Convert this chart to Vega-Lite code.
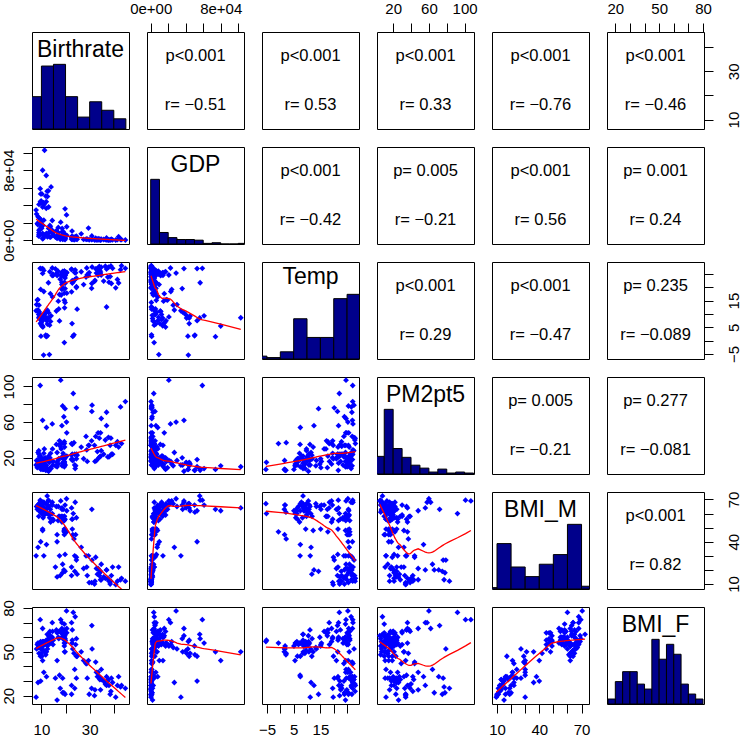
{
"$schema": "https://vega.github.io/schema/vega-lite/v6.json",
"padding": 0,
"config": {
 "view": {"stroke": "black", "strokeWidth": 1},
 "font": "Liberation Sans",
 "axis": {"grid": false, "domain": false, "tickColor": "black", "tickSize": 9, "tickWidth": 1, "labelFontSize": 15, "labelColor": "black", "labelFont": "Liberation Sans", "labelOverlap": false, "labelBound": false, "labelFlush": false}
},
"datasets": {
 "c": [
  {"Birthrate":11.3,"GDP":102900,"Temp":8.6,"PM2pt5":10,"BMI_M":64,"BMI_F":50},
  {"Birthrate":10.5,"GDP":80000,"Temp":5.5,"PM2pt5":11,"BMI_M":62,"BMI_F":44},
  {"Birthrate":12.0,"GDP":74000,"Temp":1.5,"PM2pt5":7,"BMI_M":63,"BMI_F":50},
  {"Birthrate":14.0,"GDP":61000,"Temp":9.3,"PM2pt5":8,"BMI_M":66,"BMI_F":56},
  {"Birthrate":10.2,"GDP":53000,"Temp":7.5,"PM2pt5":10,"BMI_M":62,"BMI_F":47},
  {"Birthrate":11.8,"GDP":50500,"Temp":2.1,"PM2pt5":6,"BMI_M":61,"BMI_F":48},
  {"Birthrate":12.5,"GDP":50000,"Temp":1.8,"PM2pt5":6,"BMI_M":66,"BMI_F":54},
  {"Birthrate":9.9,"GDP":45000,"Temp":9.2,"PM2pt5":13,"BMI_M":62,"BMI_F":49},
  {"Birthrate":9.6,"GDP":44000,"Temp":6.4,"PM2pt5":15,"BMI_M":64,"BMI_F":47},
  {"Birthrate":9.8,"GDP":42500,"Temp":1.7,"PM2pt5":7,"BMI_M":66,"BMI_F":52},
  {"Birthrate":9.0,"GDP":41000,"Temp":8.5,"PM2pt5":14,"BMI_M":65,"BMI_F":49},
  {"Birthrate":11.0,"GDP":40500,"Temp":9.6,"PM2pt5":15,"BMI_M":64,"BMI_F":51},
  {"Birthrate":12.0,"GDP":44000,"Temp":8.5,"PM2pt5":11,"BMI_M":67,"BMI_F":58},
  {"Birthrate":12.0,"GDP":36500,"Temp":10.7,"PM2pt5":12,"BMI_M":63,"BMI_F":50},
  {"Birthrate":8.0,"GDP":30000,"Temp":13.5,"PM2pt5":17,"BMI_M":65,"BMI_F":52},
  {"Birthrate":9.0,"GDP":25700,"Temp":13.3,"PM2pt5":11,"BMI_M":67,"BMI_F":53},
  {"Birthrate":8.3,"GDP":19200,"Temp":15.2,"PM2pt5":9,"BMI_M":63,"BMI_F":55},
  {"Birthrate":8.5,"GDP":18000,"Temp":15.4,"PM2pt5":16,"BMI_M":66,"BMI_F":56},
  {"Birthrate":10.4,"GDP":17500,"Temp":7.5,"PM2pt5":18,"BMI_M":67,"BMI_F":56},
  {"Birthrate":9.9,"GDP":16000,"Temp":6.8,"PM2pt5":19,"BMI_M":65,"BMI_F":55},
  {"Birthrate":9.8,"GDP":20800,"Temp":8.9,"PM2pt5":17,"BMI_M":66,"BMI_F":54},
  {"Birthrate":10.6,"GDP":17000,"Temp":5.1,"PM2pt5":7,"BMI_M":62,"BMI_F":54},
  {"Birthrate":9.9,"GDP":14200,"Temp":6.2,"PM2pt5":12,"BMI_M":62,"BMI_F":56},
  {"Birthrate":10.1,"GDP":13700,"Temp":5.6,"PM2pt5":13,"BMI_M":60,"BMI_F":56},
  {"Birthrate":9.6,"GDP":12500,"Temp":7.9,"PM2pt5":22,"BMI_M":68,"BMI_F":56},
  {"Birthrate":9.3,"GDP":12300,"Temp":9.8,"PM2pt5":19,"BMI_M":67,"BMI_F":55},
  {"Birthrate":9.0,"GDP":11500,"Temp":10.9,"PM2pt5":17,"BMI_M":66,"BMI_F":56},
  {"Birthrate":9.0,"GDP":8900,"Temp":8.8,"PM2pt5":17,"BMI_M":62,"BMI_F":54},
  {"Birthrate":9.0,"GDP":6800,"Temp":10.6,"PM2pt5":24,"BMI_M":63,"BMI_F":55},
  {"Birthrate":9.2,"GDP":5200,"Temp":10.0,"PM2pt5":21,"BMI_M":62,"BMI_F":54},
  {"Birthrate":8.9,"GDP":4700,"Temp":9.8,"PM2pt5":28,"BMI_M":58,"BMI_F":54},
  {"Birthrate":12.5,"GDP":3900,"Temp":11.4,"PM2pt5":18,"BMI_M":60,"BMI_F":52},
  {"Birthrate":11.2,"GDP":4800,"Temp":9.8,"PM2pt5":30,"BMI_M":59,"BMI_F":55},
  {"Birthrate":11.6,"GDP":6400,"Temp":10.6,"PM2pt5":20,"BMI_M":61,"BMI_F":57},
  {"Birthrate":12.5,"GDP":5800,"Temp":6.2,"PM2pt5":17,"BMI_M":60,"BMI_F":57},
  {"Birthrate":10.7,"GDP":2100,"Temp":8.3,"PM2pt5":19,"BMI_M":57,"BMI_F":56},
  {"Birthrate":10.5,"GDP":1800,"Temp":9.5,"PM2pt5":15,"BMI_M":49,"BMI_F":57},
  {"Birthrate":13.3,"GDP":9300,"Temp":-5.2,"PM2pt5":15,"BMI_M":60,"BMI_F":58},
  {"Birthrate":11.0,"GDP":23000,"Temp":18.4,"PM2pt5":16,"BMI_M":68,"BMI_F":55},
  {"Birthrate":9.7,"GDP":24000,"Temp":19.2,"PM2pt5":13,"BMI_M":69,"BMI_F":57},
  {"Birthrate":12.4,"GDP":56000,"Temp":8.5,"PM2pt5":8,"BMI_M":72.5,"BMI_F":62},
  {"Birthrate":10.9,"GDP":43000,"Temp":-5.4,"PM2pt5":7,"BMI_M":67,"BMI_F":57},
  {"Birthrate":12.9,"GDP":56500,"Temp":21.7,"PM2pt5":6,"BMI_M":69.5,"BMI_F":59},
  {"Birthrate":13.0,"GDP":38000,"Temp":10.5,"PM2pt5":5,"BMI_M":69,"BMI_F":61},
  {"Birthrate":19.8,"GDP":36000,"Temp":19.5,"PM2pt5":20,"BMI_M":66,"BMI_F":59},
  {"Birthrate":7.8,"GDP":34500,"Temp":11.2,"PM2pt5":12,"BMI_M":30,"BMI_F":19},
  {"Birthrate":8.6,"GDP":27000,"Temp":11.5,"PM2pt5":26,"BMI_M":36,"BMI_F":29},
  {"Birthrate":9.7,"GDP":53000,"Temp":27.0,"PM2pt5":18,"BMI_M":40,"BMI_F":30},
  {"Birthrate":12.1,"GDP":8000,"Temp":7.5,"PM2pt5":54,"BMI_M":38,"BMI_F":33},
  {"Birthrate":19.5,"GDP":3900,"Temp":-0.7,"PM2pt5":36,"BMI_M":47,"BMI_F":56},
  {"Birthrate":9.5,"GDP":59000,"Temp":27.1,"PM2pt5":101,"BMI_M":69.5,"BMI_F":72},
  {"Birthrate":10.5,"GDP":38000,"Temp":27.0,"PM2pt5":62,"BMI_M":68,"BMI_F":66},
  {"Birthrate":20.4,"GDP":29000,"Temp":25.3,"PM2pt5":60,"BMI_M":70.5,"BMI_F":78},
  {"Birthrate":18.0,"GDP":20700,"Temp":24.6,"PM2pt5":107,"BMI_M":69,"BMI_F":72},
  {"Birthrate":14.5,"GDP":22600,"Temp":27.2,"PM2pt5":58,"BMI_M":68,"BMI_F":70},
  {"Birthrate":20.5,"GDP":15500,"Temp":25.6,"PM2pt5":48,"BMI_M":62,"BMI_F":66},
  {"Birthrate":23.2,"GDP":3500,"Temp":22.1,"PM2pt5":92,"BMI_M":60,"BMI_F":77},
  {"Birthrate":22.5,"GDP":4100,"Temp":18.3,"PM2pt5":36,"BMI_M":64,"BMI_F":70},
  {"Birthrate":14.6,"GDP":8000,"Temp":16.4,"PM2pt5":30,"BMI_M":66,"BMI_F":64},
  {"Birthrate":17.5,"GDP":5000,"Temp":17.3,"PM2pt5":39,"BMI_M":58,"BMI_F":64},
  {"Birthrate":30.9,"GDP":4900,"Temp":21.4,"PM2pt5":72,"BMI_M":63,"BMI_F":68},
  {"Birthrate":16.2,"GDP":11000,"Temp":11.1,"PM2pt5":35,"BMI_M":65,"BMI_F":65},
  {"Birthrate":18.5,"GDP":3800,"Temp":19.2,"PM2pt5":36,"BMI_M":54,"BMI_F":66},
  {"Birthrate":22.8,"GDP":4200,"Temp":22.5,"PM2pt5":35,"BMI_M":56,"BMI_F":65},
  {"Birthrate":18.2,"GDP":2900,"Temp":17.1,"PM2pt5":30,"BMI_M":58,"BMI_F":63},
  {"Birthrate":18.5,"GDP":6000,"Temp":21.8,"PM2pt5":56,"BMI_M":64,"BMI_F":70},
  {"Birthrate":19.5,"GDP":2000,"Temp":17.8,"PM2pt5":38,"BMI_M":58,"BMI_F":65},
  {"Birthrate":28.5,"GDP":1200,"Temp":23.8,"PM2pt5":44,"BMI_M":30,"BMI_F":42},
  {"Birthrate":18.5,"GDP":9600,"Temp":21.0,"PM2pt5":20,"BMI_M":63,"BMI_F":64},
  {"Birthrate":14.8,"GDP":8800,"Temp":24.9,"PM2pt5":12,"BMI_M":56,"BMI_F":55},
  {"Birthrate":17.0,"GDP":14700,"Temp":14.8,"PM2pt5":13,"BMI_M":65,"BMI_F":60},
  {"Birthrate":13.0,"GDP":13600,"Temp":8.5,"PM2pt5":22,"BMI_M":65,"BMI_F":62},
  {"Birthrate":13.7,"GDP":15500,"Temp":17.6,"PM2pt5":9,"BMI_M":63,"BMI_F":61},
  {"Birthrate":14.9,"GDP":6000,"Temp":24.5,"PM2pt5":16,"BMI_M":55,"BMI_F":58},
  {"Birthrate":19.0,"GDP":6000,"Temp":19.6,"PM2pt5":25,"BMI_M":56,"BMI_F":60},
  {"Birthrate":19.0,"GDP":10000,"Temp":25.5,"PM2pt5":15,"BMI_M":63,"BMI_F":62},
  {"Birthrate":19.5,"GDP":6100,"Temp":21.8,"PM2pt5":14,"BMI_M":55,"BMI_F":60},
  {"Birthrate":22.8,"GDP":3100,"Temp":21.6,"PM2pt5":24,"BMI_M":49,"BMI_F":58},
  {"Birthrate":19.8,"GDP":4100,"Temp":23.5,"PM2pt5":12,"BMI_M":56,"BMI_F":56},
  {"Birthrate":24.5,"GDP":3900,"Temp":23.4,"PM2pt5":24,"BMI_M":57,"BMI_F":59},
  {"Birthrate":19.9,"GDP":2300,"Temp":24.4,"PM2pt5":21,"BMI_M":48,"BMI_F":58},
  {"Birthrate":19.5,"GDP":2100,"Temp":26.0,"PM2pt5":16,"BMI_M":47,"BMI_F":59},
  {"Birthrate":18.5,"GDP":4200,"Temp":24.3,"PM2pt5":21,"BMI_M":57,"BMI_F":60},
  {"Birthrate":14.5,"GDP":11400,"Temp":24.4,"PM2pt5":16,"BMI_M":60,"BMI_F":60},
  {"Birthrate":18.6,"GDP":13600,"Temp":25.5,"PM2pt5":11,"BMI_M":58,"BMI_F":60},
  {"Birthrate":19.7,"GDP":6900,"Temp":25.8,"PM2pt5":12,"BMI_M":49,"BMI_F":61},
  {"Birthrate":10.5,"GDP":7800,"Temp":25.2,"PM2pt5":16,"BMI_M":48,"BMI_F":56},
  {"Birthrate":23.8,"GDP":800,"Temp":25.5,"PM2pt5":12,"BMI_M":30,"BMI_F":38},
  {"Birthrate":16.5,"GDP":5000,"Temp":25.0,"PM2pt5":10,"BMI_M":45,"BMI_F":63},
  {"Birthrate":13.5,"GDP":17000,"Temp":25.8,"PM2pt5":20,"BMI_M":59,"BMI_F":64},
  {"Birthrate":19.5,"GDP":4800,"Temp":25.3,"PM2pt5":19,"BMI_M":48,"BMI_F":63},
  {"Birthrate":19.5,"GDP":4100,"Temp":26.0,"PM2pt5":15,"BMI_M":45,"BMI_F":58},
  {"Birthrate":16.9,"GDP":8800,"Temp":26.0,"PM2pt5":17,"BMI_M":55,"BMI_F":64},
  {"Birthrate":19.3,"GDP":1600,"Temp":24.0,"PM2pt5":66,"BMI_M":20,"BMI_F":22},
  {"Birthrate":24.5,"GDP":1400,"Temp":20.2,"PM2pt5":76,"BMI_M":27,"BMI_F":32},
  {"Birthrate":18.8,"GDP":1200,"Temp":25.5,"PM2pt5":78,"BMI_M":18,"BMI_F":22},
  {"Birthrate":19.8,"GDP":730,"Temp":14.3,"PM2pt5":75,"BMI_M":19,"BMI_F":21},
  {"Birthrate":15.8,"GDP":3800,"Temp":26.9,"PM2pt5":11,"BMI_M":22,"BMI_F":32},
  {"Birthrate":18.8,"GDP":3300,"Temp":25.9,"PM2pt5":14,"BMI_M":24,"BMI_F":32},
  {"Birthrate":22.5,"GDP":2900,"Temp":26.6,"PM2pt5":18,"BMI_M":22,"BMI_F":27},
  {"Birthrate":16.5,"GDP":2100,"Temp":24.4,"PM2pt5":26,"BMI_M":15,"BMI_F":17},
  {"Birthrate":11.0,"GDP":5800,"Temp":26.3,"PM2pt5":25,"BMI_M":30,"BMI_F":36},
  {"Birthrate":16.5,"GDP":9800,"Temp":25.4,"PM2pt5":15,"BMI_M":40,"BMI_F":44},
  {"Birthrate":22.5,"GDP":1160,"Temp":26.8,"PM2pt5":23,"BMI_M":16,"BMI_F":21},
  {"Birthrate":17.8,"GDP":1200,"Temp":23.0,"PM2pt5":33,"BMI_M":16,"BMI_F":25},
  {"Birthrate":23.8,"GDP":2000,"Temp":22.8,"PM2pt5":24,"BMI_M":19,"BMI_F":25},
  {"Birthrate":17.5,"GDP":2600,"Temp":7.4,"PM2pt5":35,"BMI_M":30,"BMI_F":34},
  {"Birthrate":37.0,"GDP":600,"Temp":12.6,"PM2pt5":56,"BMI_M":20,"BMI_F":27},
  {"Birthrate":22.7,"GDP":10500,"Temp":6.4,"PM2pt5":19,"BMI_M":56,"BMI_F":56},
  {"Birthrate":23.0,"GDP":1100,"Temp":1.6,"PM2pt5":17,"BMI_M":45,"BMI_F":52},
  {"Birthrate":23.5,"GDP":900,"Temp":2.2,"PM2pt5":37,"BMI_M":42,"BMI_F":49},
  {"Birthrate":19.6,"GDP":2100,"Temp":12.3,"PM2pt5":32,"BMI_M":48,"BMI_F":50},
  {"Birthrate":19.5,"GDP":6400,"Temp":15.1,"PM2pt5":19,"BMI_M":49,"BMI_F":54},
  {"Birthrate":17.2,"GDP":5500,"Temp":11.9,"PM2pt5":19,"BMI_M":58,"BMI_F":59},
  {"Birthrate":13.8,"GDP":3600,"Temp":7.2,"PM2pt5":25,"BMI_M":54,"BMI_F":56},
  {"Birthrate":13.4,"GDP":4000,"Temp":5.8,"PM2pt5":17,"BMI_M":57,"BMI_F":56},
  {"Birthrate":44.8,"GDP":360,"Temp":27.1,"PM2pt5":83,"BMI_M":12,"BMI_F":25},
  {"Birthrate":43.2,"GDP":780,"Temp":28.1,"PM2pt5":36,"BMI_M":14,"BMI_F":27},
  {"Birthrate":42.8,"GDP":780,"Temp":26.6,"PM2pt5":77,"BMI_M":13,"BMI_F":26},
  {"Birthrate":42.0,"GDP":4100,"Temp":21.6,"PM2pt5":32,"BMI_M":22,"BMI_F":33},
  {"Birthrate":41.5,"GDP":700,"Temp":22.9,"PM2pt5":38,"BMI_M":12,"BMI_F":27},
  {"Birthrate":40.8,"GDP":300,"Temp":19.8,"PM2pt5":34,"BMI_M":9.5,"BMI_F":19},
  {"Birthrate":39.5,"GDP":500,"Temp":27.1,"PM2pt5":24,"BMI_M":22,"BMI_F":29},
  {"Birthrate":39.0,"GDP":1300,"Temp":21.4,"PM2pt5":24,"BMI_M":16,"BMI_F":32},
  {"Birthrate":38.8,"GDP":600,"Temp":28.0,"PM2pt5":42,"BMI_M":12,"BMI_F":23},
  {"Birthrate":38.5,"GDP":450,"Temp":24.0,"PM2pt5":34,"BMI_M":10,"BMI_F":21},
  {"Birthrate":38.0,"GDP":380,"Temp":21.9,"PM2pt5":21,"BMI_M":12,"BMI_F":27},
  {"Birthrate":37.8,"GDP":470,"Temp":27.5,"PM2pt5":43,"BMI_M":13,"BMI_F":31},
  {"Birthrate":37.5,"GDP":600,"Temp":23.8,"PM2pt5":21,"BMI_M":14,"BMI_F":30},
  {"Birthrate":37.0,"GDP":2700,"Temp":26.8,"PM2pt5":71,"BMI_M":20,"BMI_F":33},
  {"Birthrate":36.5,"GDP":800,"Temp":27.9,"PM2pt5":40,"BMI_M":14,"BMI_F":28},
  {"Birthrate":35.8,"GDP":950,"Temp":22.3,"PM2pt5":24,"BMI_M":15,"BMI_F":30},
  {"Birthrate":34.8,"GDP":780,"Temp":27.5,"PM2pt5":28,"BMI_M":13,"BMI_F":31},
  {"Birthrate":34.5,"GDP":700,"Temp":25.7,"PM2pt5":22,"BMI_M":19,"BMI_F":32},
  {"Birthrate":34.8,"GDP":1250,"Temp":24.6,"PM2pt5":64,"BMI_M":24,"BMI_F":38},
  {"Birthrate":34.2,"GDP":1400,"Temp":26.3,"PM2pt5":21,"BMI_M":18,"BMI_F":31},
  {"Birthrate":34.0,"GDP":900,"Temp":27.8,"PM2pt5":42,"BMI_M":16,"BMI_F":33},
  {"Birthrate":34.5,"GDP":350,"Temp":24.9,"PM2pt5":48,"BMI_M":13,"BMI_F":24},
  {"Birthrate":33.5,"GDP":1900,"Temp":24.5,"PM2pt5":48,"BMI_M":21,"BMI_F":36},
  {"Birthrate":33.8,"GDP":600,"Temp":26.0,"PM2pt5":20,"BMI_M":20,"BMI_F":33},
  {"Birthrate":33.2,"GDP":550,"Temp":27.1,"PM2pt5":27,"BMI_M":17,"BMI_F":33},
  {"Birthrate":32.8,"GDP":450,"Temp":25.3,"PM2pt5":17,"BMI_M":21,"BMI_F":36},
  {"Birthrate":32.0,"GDP":620,"Temp":22.2,"PM2pt5":34,"BMI_M":10,"BMI_F":20},
  {"Birthrate":32.5,"GDP":2400,"Temp":26.9,"PM2pt5":44,"BMI_M":29,"BMI_F":43},
  {"Birthrate":32.2,"GDP":400,"Temp":22.6,"PM2pt5":16,"BMI_M":12,"BMI_F":24},
  {"Birthrate":31.0,"GDP":1200,"Temp":27.6,"PM2pt5":79,"BMI_M":27,"BMI_F":52},
  {"Birthrate":30.8,"GDP":700,"Temp":19.6,"PM2pt5":39,"BMI_M":11,"BMI_F":25},
  {"Birthrate":29.8,"GDP":600,"Temp":25.5,"PM2pt5":34,"BMI_M":11,"BMI_F":21},
  {"Birthrate":29.5,"GDP":14000,"Temp":24.5,"PM2pt5":34,"BMI_M":30,"BMI_F":44},
  {"Birthrate":29.0,"GDP":1350,"Temp":24.7,"PM2pt5":16,"BMI_M":16,"BMI_F":32},
  {"Birthrate":28.8,"GDP":1400,"Temp":27.2,"PM2pt5":29,"BMI_M":22,"BMI_F":42},
  {"Birthrate":27.5,"GDP":1000,"Temp":21.0,"PM2pt5":19,"BMI_M":21,"BMI_F":44},
  {"Birthrate":26.5,"GDP":7400,"Temp":25.8,"PM2pt5":32,"BMI_M":36,"BMI_F":50},
  {"Birthrate":24.5,"GDP":4700,"Temp":19.9,"PM2pt5":19,"BMI_M":29,"BMI_F":47},
  {"Birthrate":24.8,"GDP":1100,"Temp":11.8,"PM2pt5":23,"BMI_M":17,"BMI_F":47},
  {"Birthrate":19.8,"GDP":6500,"Temp":21.5,"PM2pt5":21,"BMI_M":31,"BMI_F":50},
  {"Birthrate":20.5,"GDP":5700,"Temp":17.8,"PM2pt5":22,"BMI_M":47,"BMI_F":63},
  {"Birthrate":24.2,"GDP":2500,"Temp":25.4,"PM2pt5":11,"BMI_M":45,"BMI_F":55},
  {"Birthrate":19.5,"GDP":5000,"Temp":24.4,"PM2pt5":10,"BMI_M":58,"BMI_F":69},
  {"Birthrate":24.0,"GDP":4100,"Temp":26.5,"PM2pt5":8,"BMI_M":68,"BMI_F":74}
 ],
 "h": [
  {"v":"Birthrate","lo":5,"hi":10,"n":19},{"v":"Birthrate","lo":10,"hi":15,"n":37},{"v":"Birthrate","lo":15,"hi":20,"n":38},{"v":"Birthrate","lo":20,"hi":25,"n":19},{"v":"Birthrate","lo":25,"hi":30,"n":7},{"v":"Birthrate","lo":30,"hi":35,"n":16},{"v":"Birthrate","lo":35,"hi":40,"n":11},{"v":"Birthrate","lo":40,"hi":45,"n":6},
  {"v":"GDP","lo":0,"hi":10000,"n":101},{"v":"GDP","lo":10000,"hi":20000,"n":18},{"v":"GDP","lo":20000,"hi":30000,"n":10},{"v":"GDP","lo":30000,"hi":40000,"n":7},{"v":"GDP","lo":40000,"hi":50000,"n":7},{"v":"GDP","lo":50000,"hi":60000,"n":6},{"v":"GDP","lo":60000,"hi":70000,"n":1},{"v":"GDP","lo":70000,"hi":80000,"n":2},{"v":"GDP","lo":80000,"hi":90000,"n":0},{"v":"GDP","lo":90000,"hi":100000,"n":0},{"v":"GDP","lo":100000,"hi":110000,"n":1},
  {"v":"Temp","lo":-10,"hi":-5,"n":2},{"v":"Temp","lo":-5,"hi":0,"n":1},{"v":"Temp","lo":0,"hi":5,"n":5},{"v":"Temp","lo":5,"hi":10,"n":28},{"v":"Temp","lo":10,"hi":15,"n":15},{"v":"Temp","lo":15,"hi":20,"n":15},{"v":"Temp","lo":20,"hi":25,"n":42},{"v":"Temp","lo":25,"hi":30,"n":45},
  {"v":"PM2pt5","lo":0,"hi":10,"n":18},{"v":"PM2pt5","lo":10,"hi":20,"n":66},{"v":"PM2pt5","lo":20,"hi":30,"n":26},{"v":"PM2pt5","lo":30,"hi":40,"n":17},{"v":"PM2pt5","lo":40,"hi":50,"n":9},{"v":"PM2pt5","lo":50,"hi":60,"n":6},{"v":"PM2pt5","lo":60,"hi":70,"n":2},{"v":"PM2pt5","lo":70,"hi":80,"n":5},{"v":"PM2pt5","lo":80,"hi":90,"n":1},{"v":"PM2pt5","lo":90,"hi":100,"n":2},{"v":"PM2pt5","lo":100,"hi":110,"n":1},
  {"v":"BMI_M","lo":0,"hi":10,"n":1},{"v":"BMI_M","lo":10,"hi":20,"n":33},{"v":"BMI_M","lo":20,"hi":30,"n":16},{"v":"BMI_M","lo":30,"hi":40,"n":9},{"v":"BMI_M","lo":40,"hi":50,"n":18},{"v":"BMI_M","lo":50,"hi":60,"n":25},{"v":"BMI_M","lo":60,"hi":70,"n":47},{"v":"BMI_M","lo":70,"hi":80,"n":2},
  {"v":"BMI_F","lo":15,"hi":20,"n":2},{"v":"BMI_F","lo":20,"hi":25,"n":9},{"v":"BMI_F","lo":25,"hi":30,"n":13},{"v":"BMI_F","lo":30,"hi":35,"n":13},{"v":"BMI_F","lo":35,"hi":40,"n":8},{"v":"BMI_F","lo":40,"hi":45,"n":6},{"v":"BMI_F","lo":45,"hi":50,"n":26},{"v":"BMI_F","lo":50,"hi":55,"n":18},{"v":"BMI_F","lo":55,"hi":60,"n":24},{"v":"BMI_F","lo":60,"hi":65,"n":20},{"v":"BMI_F","lo":65,"hi":70,"n":8},{"v":"BMI_F","lo":70,"hi":75,"n":4},{"v":"BMI_F","lo":75,"hi":80,"n":2}
 ],
 "nm": [{"v":"Birthrate"},{"v":"GDP"},{"v":"Temp"},{"v":"PM2pt5"},{"v":"BMI_M"},{"v":"BMI_F"}],
 "s": [
  {"k":"12","line":"p","label":"p<0.001"},{"k":"12","line":"r","label":"r= −0.51"},
  {"k":"13","line":"p","label":"p<0.001"},{"k":"13","line":"r","label":"r= 0.53"},
  {"k":"14","line":"p","label":"p<0.001"},{"k":"14","line":"r","label":"r= 0.33"},
  {"k":"15","line":"p","label":"p<0.001"},{"k":"15","line":"r","label":"r= −0.76"},
  {"k":"16","line":"p","label":"p<0.001"},{"k":"16","line":"r","label":"r= −0.46"},
  {"k":"23","line":"p","label":"p<0.001"},{"k":"23","line":"r","label":"r= −0.42"},
  {"k":"24","line":"p","label":"p= 0.005"},{"k":"24","line":"r","label":"r= −0.21"},
  {"k":"25","line":"p","label":"p<0.001"},{"k":"25","line":"r","label":"r= 0.56"},
  {"k":"26","line":"p","label":"p= 0.001"},{"k":"26","line":"r","label":"r= 0.24"},
  {"k":"34","line":"p","label":"p<0.001"},{"k":"34","line":"r","label":"r= 0.29"},
  {"k":"35","line":"p","label":"p<0.001"},{"k":"35","line":"r","label":"r= −0.47"},
  {"k":"36","line":"p","label":"p= 0.235"},{"k":"36","line":"r","label":"r= −0.089"},
  {"k":"45","line":"p","label":"p= 0.005"},{"k":"45","line":"r","label":"r= −0.21"},
  {"k":"46","line":"p","label":"p= 0.277"},{"k":"46","line":"r","label":"r= −0.081"},
  {"k":"56","line":"p","label":"p<0.001"},{"k":"56","line":"r","label":"r= 0.82"}
 ]
},
"columns": 6,
"spacing": 18,
"bounds": "flush",
"concat": [
 {"width":97,"height":97,"layer":[
  {"data":{"name":"h"},"transform":[{"filter":"datum.v=='Birthrate'"}],"mark":{"type":"bar","fill":"#00008B","stroke":"black","strokeWidth":1,"clip":true},"encoding":{"x":{"field":"lo","type":"quantitative","scale":{"domain":[6.1,46.3],"nice":false,"zero":false},"axis":null},"x2":{"field":"hi"},"y":{"field":"n","type":"quantitative","scale":{"domain":[0,57],"nice":false},"axis":null},"y2":{"datum":0}}},
  {"data":{"name":"nm"},"transform":[{"filter":"datum.v=='Birthrate'"}],"mark":{"type":"text","fontSize":23,"baseline":"alphabetic","color":"black"},"encoding":{"y":{"field":"v","type":"nominal","scale":{"type":"point","align":0.254,"padding":0},"axis":null},"text":{"field":"v"}}}
 ],"resolve":{"scale":{"y":"independent"}}},
 {"width":97,"height":97,"layer":[
  {"data":{"name":"s"},"transform":[{"filter":"datum.k=='12'"}],"mark":{"type":"text","fontSize":16.5,"color":"black"},"encoding":{"y":{"field":"line","type":"nominal","scale":{"type":"point","domain":["p","r"],"padding":0.49},"axis":null},"text":{"field":"label"}}},
  {"data":{"name":"c"},"mark":{"type":"point","opacity":0},"encoding":{"x":{"field":"GDP","type":"quantitative","title":null,"scale":{"domain":[-4230,106600],"nice":false,"zero":false},"axis":{"title":null,"orient":"top","values":[0,20000,40000,60000,80000,100000],"labelExpr":"datum.value==0?'0e+00':datum.value==80000?'8e+04':''","labelBaseline":"alphabetic","labelPadding":10}}}}
 ]},
 {"width":97,"height":97,"data":{"name":"s"},"transform":[{"filter":"datum.k=='13'"}],"mark":{"type":"text","fontSize":16.5,"color":"black"},"encoding":{"y":{"field":"line","type":"nominal","scale":{"type":"point","domain":["p","r"],"padding":0.49},"axis":null},"text":{"field":"label"}}},
 {"width":97,"height":97,"layer":[
  {"data":{"name":"s"},"transform":[{"filter":"datum.k=='14'"}],"mark":{"type":"text","fontSize":16.5,"color":"black"},"encoding":{"y":{"field":"line","type":"nominal","scale":{"type":"point","domain":["p","r"],"padding":0.49},"axis":null},"text":{"field":"label"}}},
  {"data":{"name":"c"},"mark":{"type":"point","opacity":0},"encoding":{"x":{"field":"PM2pt5","type":"quantitative","title":null,"scale":{"domain":[1.9,110.5],"nice":false,"zero":false},"axis":{"title":null,"orient":"top","values":[20,40,60,80,100],"labelExpr":"datum.value==20||datum.value==60||datum.value==100?datum.label:''","labelBaseline":"alphabetic","labelPadding":10}}}}
 ]},
 {"width":97,"height":97,"data":{"name":"s"},"transform":[{"filter":"datum.k=='15'"}],"mark":{"type":"text","fontSize":16.5,"color":"black"},"encoding":{"y":{"field":"line","type":"nominal","scale":{"type":"point","domain":["p","r"],"padding":0.49},"axis":null},"text":{"field":"label"}}},
 {"width":97,"height":97,"layer":[
  {"data":{"name":"s"},"transform":[{"filter":"datum.k=='16'"}],"mark":{"type":"text","fontSize":16.5,"color":"black"},"encoding":{"y":{"field":"line","type":"nominal","scale":{"type":"point","domain":["p","r"],"padding":0.49},"axis":null},"text":{"field":"label"}}},
  {"data":{"name":"c"},"mark":{"type":"point","opacity":0},"encoding":{"x":{"field":"BMI_F","type":"quantitative","title":null,"scale":{"domain":[14.3,80.7],"nice":false,"zero":false},"axis":{"title":null,"orient":"top","values":[20,30,40,50,60,70,80],"labelExpr":"datum.value==20||datum.value==50||datum.value==80?datum.label:''","labelBaseline":"alphabetic","labelPadding":10}},"y":{"field":"Birthrate","type":"quantitative","title":null,"scale":{"domain":[6.1,46.3],"nice":false,"zero":false},"axis":{"title":null,"orient":"right","values":[10,20,30,40],"labelExpr":"datum.value==10||datum.value==30?datum.label:''","labelAngle":-90,"labelAlign":"center","labelBaseline":"top","labelPadding":13}}}}
 ],"resolve":{"scale":{"y":"independent"}}},

 {"width":97,"height":97,"data":{"name":"c"},"encoding":{"x":{"field":"Birthrate","type":"quantitative","title":null,"scale":{"domain":[6.1,46.3],"nice":false,"zero":false},"axis":null},"y":{"field":"GDP","type":"quantitative","title":null,"scale":{"domain":[-4230,106600],"nice":false,"zero":false},"axis":{"title":null,"orient":"left","values":[0,20000,40000,60000,80000,100000],"labelExpr":"datum.value==0?'0e+00':datum.value==80000?'8e+04':''","labelAngle":-90,"labelAlign":"center","labelBaseline":"alphabetic","labelPadding":10}}},"layer":[{"mark":{"type":"point","shape":"diamond","filled":true,"color":"blue","size":34,"opacity":1}},{"transform":[{"loess":"GDP","on":"Birthrate","bandwidth":0.67}],"mark":{"type":"line","color":"red","strokeWidth":1.3,"clip":true},"encoding":{}}]},
 {"width":97,"height":97,"layer":[
  {"data":{"name":"h"},"transform":[{"filter":"datum.v=='GDP'"}],"mark":{"type":"bar","fill":"#00008B","stroke":"black","strokeWidth":1,"clip":true},"encoding":{"x":{"field":"lo","type":"quantitative","scale":{"domain":[-4230,106600],"nice":false,"zero":false},"axis":null},"x2":{"field":"hi"},"y":{"field":"n","type":"quantitative","scale":{"domain":[0,151.5],"nice":false},"axis":null},"y2":{"datum":0}}},
  {"data":{"name":"nm"},"transform":[{"filter":"datum.v=='GDP'"}],"mark":{"type":"text","fontSize":23,"baseline":"alphabetic","color":"black"},"encoding":{"y":{"field":"v","type":"nominal","scale":{"type":"point","align":0.26,"padding":0},"axis":null},"text":{"field":"v"}}}
 ],"resolve":{"scale":{"y":"independent"}}},
 {"width":97,"height":97,"data":{"name":"s"},"transform":[{"filter":"datum.k=='23'"}],"mark":{"type":"text","fontSize":16.5,"color":"black"},"encoding":{"y":{"field":"line","type":"nominal","scale":{"type":"point","domain":["p","r"],"padding":0.49},"axis":null},"text":{"field":"label"}}},
 {"width":97,"height":97,"data":{"name":"s"},"transform":[{"filter":"datum.k=='24'"}],"mark":{"type":"text","fontSize":16.5,"color":"black"},"encoding":{"y":{"field":"line","type":"nominal","scale":{"type":"point","domain":["p","r"],"padding":0.49},"axis":null},"text":{"field":"label"}}},
 {"width":97,"height":97,"data":{"name":"s"},"transform":[{"filter":"datum.k=='25'"}],"mark":{"type":"text","fontSize":16.5,"color":"black"},"encoding":{"y":{"field":"line","type":"nominal","scale":{"type":"point","domain":["p","r"],"padding":0.49},"axis":null},"text":{"field":"label"}}},
 {"width":97,"height":97,"data":{"name":"s"},"transform":[{"filter":"datum.k=='26'"}],"mark":{"type":"text","fontSize":16.5,"color":"black"},"encoding":{"y":{"field":"line","type":"nominal","scale":{"type":"point","domain":["p","r"],"padding":0.49},"axis":null},"text":{"field":"label"}}},

 {"width":97,"height":97,"data":{"name":"c"},"encoding":{"x":{"field":"Birthrate","type":"quantitative","title":null,"scale":{"domain":[6.1,46.3],"nice":false,"zero":false},"axis":null},"y":{"field":"Temp","type":"quantitative","title":null,"scale":{"domain":[-6.86,29.46],"nice":false,"zero":false},"axis":null}},"layer":[{"mark":{"type":"point","shape":"diamond","filled":true,"color":"blue","size":34,"opacity":1}},{"transform":[{"loess":"Temp","on":"Birthrate","bandwidth":0.67}],"mark":{"type":"line","color":"red","strokeWidth":1.3,"clip":true},"encoding":{}}]},
 {"width":97,"height":97,"data":{"name":"c"},"encoding":{"x":{"field":"GDP","type":"quantitative","title":null,"scale":{"domain":[-4230,106600],"nice":false,"zero":false},"axis":null},"y":{"field":"Temp","type":"quantitative","title":null,"scale":{"domain":[-6.86,29.46],"nice":false,"zero":false},"axis":null}},"layer":[{"mark":{"type":"point","shape":"diamond","filled":true,"color":"blue","size":34,"opacity":1}},{"transform":[{"loess":"Temp","on":"GDP","bandwidth":0.67}],"mark":{"type":"line","color":"red","strokeWidth":1.3,"clip":true},"encoding":{}}]},
 {"width":97,"height":97,"layer":[
  {"data":{"name":"h"},"transform":[{"filter":"datum.v=='Temp'"}],"mark":{"type":"bar","fill":"#00008B","stroke":"black","strokeWidth":1,"clip":true},"encoding":{"x":{"field":"lo","type":"quantitative","scale":{"domain":[-6.86,29.46],"nice":false,"zero":false},"axis":null},"x2":{"field":"hi"},"y":{"field":"n","type":"quantitative","scale":{"domain":[0,67.5],"nice":false},"axis":null},"y2":{"datum":0}}},
  {"data":{"name":"nm"},"transform":[{"filter":"datum.v=='Temp'"}],"mark":{"type":"text","fontSize":23,"baseline":"alphabetic","color":"black"},"encoding":{"y":{"field":"v","type":"nominal","scale":{"type":"point","align":0.23,"padding":0},"axis":null},"text":{"field":"v"}}}
 ],"resolve":{"scale":{"y":"independent"}}},
 {"width":97,"height":97,"data":{"name":"s"},"transform":[{"filter":"datum.k=='34'"}],"mark":{"type":"text","fontSize":16.5,"color":"black"},"encoding":{"y":{"field":"line","type":"nominal","scale":{"type":"point","domain":["p","r"],"padding":0.49},"axis":null},"text":{"field":"label"}}},
 {"width":97,"height":97,"data":{"name":"s"},"transform":[{"filter":"datum.k=='35'"}],"mark":{"type":"text","fontSize":16.5,"color":"black"},"encoding":{"y":{"field":"line","type":"nominal","scale":{"type":"point","domain":["p","r"],"padding":0.49},"axis":null},"text":{"field":"label"}}},
 {"width":97,"height":97,"layer":[
  {"data":{"name":"s"},"transform":[{"filter":"datum.k=='36'"}],"mark":{"type":"text","fontSize":16.5,"color":"black"},"encoding":{"y":{"field":"line","type":"nominal","scale":{"type":"point","domain":["p","r"],"padding":0.49},"axis":null},"text":{"field":"label"}}},
  {"data":{"name":"c"},"mark":{"type":"point","opacity":0},"encoding":{"y":{"field":"Temp","type":"quantitative","title":null,"scale":{"domain":[-6.86,29.46],"nice":false,"zero":false},"axis":{"title":null,"orient":"right","values":[-5,0,5,10,15,20,25],"labelExpr":"datum.value==-5||datum.value==5||datum.value==15?datum.label:''","labelAngle":-90,"labelAlign":"center","labelBaseline":"top","labelPadding":13}}}}
 ],"resolve":{"scale":{"y":"independent"}}},

 {"width":97,"height":97,"data":{"name":"c"},"encoding":{"x":{"field":"Birthrate","type":"quantitative","title":null,"scale":{"domain":[6.1,46.3],"nice":false,"zero":false},"axis":null},"y":{"field":"PM2pt5","type":"quantitative","title":null,"scale":{"domain":[1.9,110.5],"nice":false,"zero":false},"axis":{"title":null,"orient":"left","values":[20,40,60,80,100],"labelExpr":"datum.value==20||datum.value==60||datum.value==100?datum.label:''","labelAngle":-90,"labelAlign":"center","labelBaseline":"alphabetic","labelPadding":10}}},"layer":[{"mark":{"type":"point","shape":"diamond","filled":true,"color":"blue","size":34,"opacity":1}},{"transform":[{"loess":"PM2pt5","on":"Birthrate","bandwidth":0.67}],"mark":{"type":"line","color":"red","strokeWidth":1.3,"clip":true},"encoding":{}}]},
 {"width":97,"height":97,"data":{"name":"c"},"encoding":{"x":{"field":"GDP","type":"quantitative","title":null,"scale":{"domain":[-4230,106600],"nice":false,"zero":false},"axis":null},"y":{"field":"PM2pt5","type":"quantitative","title":null,"scale":{"domain":[1.9,110.5],"nice":false,"zero":false},"axis":null}},"layer":[{"mark":{"type":"point","shape":"diamond","filled":true,"color":"blue","size":34,"opacity":1}},{"transform":[{"loess":"PM2pt5","on":"GDP","bandwidth":0.67}],"mark":{"type":"line","color":"red","strokeWidth":1.3,"clip":true},"encoding":{}}]},
 {"width":97,"height":97,"data":{"name":"c"},"encoding":{"x":{"field":"Temp","type":"quantitative","title":null,"scale":{"domain":[-6.86,29.46],"nice":false,"zero":false},"axis":null},"y":{"field":"PM2pt5","type":"quantitative","title":null,"scale":{"domain":[1.9,110.5],"nice":false,"zero":false},"axis":null}},"layer":[{"mark":{"type":"point","shape":"diamond","filled":true,"color":"blue","size":34,"opacity":1}},{"transform":[{"loess":"PM2pt5","on":"Temp","bandwidth":0.67}],"mark":{"type":"line","color":"red","strokeWidth":1.3,"clip":true},"encoding":{}}]},
 {"width":97,"height":97,"layer":[
  {"data":{"name":"h"},"transform":[{"filter":"datum.v=='PM2pt5'"}],"mark":{"type":"bar","fill":"#00008B","stroke":"black","strokeWidth":1,"clip":true},"encoding":{"x":{"field":"lo","type":"quantitative","scale":{"domain":[1.9,110.5],"nice":false,"zero":false},"axis":null},"x2":{"field":"hi"},"y":{"field":"n","type":"quantitative","scale":{"domain":[0,99],"nice":false},"axis":null},"y2":{"datum":0}}},
  {"data":{"name":"nm"},"transform":[{"filter":"datum.v=='PM2pt5'"}],"mark":{"type":"text","fontSize":23,"baseline":"alphabetic","color":"black"},"encoding":{"y":{"field":"v","type":"nominal","scale":{"type":"point","align":0.254,"padding":0},"axis":null},"text":{"field":"v"}}}
 ],"resolve":{"scale":{"y":"independent"}}},
 {"width":97,"height":97,"data":{"name":"s"},"transform":[{"filter":"datum.k=='45'"}],"mark":{"type":"text","fontSize":16.5,"color":"black"},"encoding":{"y":{"field":"line","type":"nominal","scale":{"type":"point","domain":["p","r"],"padding":0.49},"axis":null},"text":{"field":"label"}}},
 {"width":97,"height":97,"data":{"name":"s"},"transform":[{"filter":"datum.k=='46'"}],"mark":{"type":"text","fontSize":16.5,"color":"black"},"encoding":{"y":{"field":"line","type":"nominal","scale":{"type":"point","domain":["p","r"],"padding":0.49},"axis":null},"text":{"field":"label"}}},

 {"width":97,"height":97,"data":{"name":"c"},"encoding":{"x":{"field":"Birthrate","type":"quantitative","title":null,"scale":{"domain":[6.1,46.3],"nice":false,"zero":false},"axis":null},"y":{"field":"BMI_M","type":"quantitative","title":null,"scale":{"domain":[6.45,75.3],"nice":false,"zero":false},"axis":null}},"layer":[{"mark":{"type":"point","shape":"diamond","filled":true,"color":"blue","size":34,"opacity":1}},{"transform":[{"loess":"BMI_M","on":"Birthrate","bandwidth":0.67}],"mark":{"type":"line","color":"red","strokeWidth":1.3,"clip":true},"encoding":{}}]},
 {"width":97,"height":97,"data":{"name":"c"},"encoding":{"x":{"field":"GDP","type":"quantitative","title":null,"scale":{"domain":[-4230,106600],"nice":false,"zero":false},"axis":null},"y":{"field":"BMI_M","type":"quantitative","title":null,"scale":{"domain":[6.45,75.3],"nice":false,"zero":false},"axis":null}},"layer":[{"mark":{"type":"point","shape":"diamond","filled":true,"color":"blue","size":34,"opacity":1}},{"transform":[{"loess":"BMI_M","on":"GDP","bandwidth":0.67}],"mark":{"type":"line","color":"red","strokeWidth":1.3,"clip":true},"encoding":{}}]},
 {"width":97,"height":97,"data":{"name":"c"},"encoding":{"x":{"field":"Temp","type":"quantitative","title":null,"scale":{"domain":[-6.86,29.46],"nice":false,"zero":false},"axis":null},"y":{"field":"BMI_M","type":"quantitative","title":null,"scale":{"domain":[6.45,75.3],"nice":false,"zero":false},"axis":null}},"layer":[{"mark":{"type":"point","shape":"diamond","filled":true,"color":"blue","size":34,"opacity":1}},{"transform":[{"loess":"BMI_M","on":"Temp","bandwidth":0.67}],"mark":{"type":"line","color":"red","strokeWidth":1.3,"clip":true},"encoding":{}}]},
 {"width":97,"height":97,"data":{"name":"c"},"encoding":{"x":{"field":"PM2pt5","type":"quantitative","title":null,"scale":{"domain":[1.9,110.5],"nice":false,"zero":false},"axis":null},"y":{"field":"BMI_M","type":"quantitative","title":null,"scale":{"domain":[6.45,75.3],"nice":false,"zero":false},"axis":null}},"layer":[{"mark":{"type":"point","shape":"diamond","filled":true,"color":"blue","size":34,"opacity":1}},{"transform":[{"loess":"BMI_M","on":"PM2pt5","bandwidth":0.67}],"mark":{"type":"line","color":"red","strokeWidth":1.3,"clip":true},"encoding":{}}]},
 {"width":97,"height":97,"layer":[
  {"data":{"name":"h"},"transform":[{"filter":"datum.v=='BMI_M'"}],"mark":{"type":"bar","fill":"#00008B","stroke":"black","strokeWidth":1,"clip":true},"encoding":{"x":{"field":"lo","type":"quantitative","scale":{"domain":[6.45,75.3],"nice":false,"zero":false},"axis":null},"x2":{"field":"hi"},"y":{"field":"n","type":"quantitative","scale":{"domain":[0,70.5],"nice":false},"axis":null},"y2":{"datum":0}}},
  {"data":{"name":"nm"},"transform":[{"filter":"datum.v=='BMI_M'"}],"mark":{"type":"text","fontSize":23,"baseline":"alphabetic","color":"black"},"encoding":{"y":{"field":"v","type":"nominal","scale":{"type":"point","align":0.254,"padding":0},"axis":null},"text":{"field":"v"}}}
 ],"resolve":{"scale":{"y":"independent"}}},
 {"width":97,"height":97,"layer":[
  {"data":{"name":"s"},"transform":[{"filter":"datum.k=='56'"}],"mark":{"type":"text","fontSize":16.5,"color":"black"},"encoding":{"y":{"field":"line","type":"nominal","scale":{"type":"point","domain":["p","r"],"padding":0.49},"axis":null},"text":{"field":"label"}}},
  {"data":{"name":"c"},"mark":{"type":"point","opacity":0},"encoding":{"y":{"field":"BMI_M","type":"quantitative","title":null,"scale":{"domain":[6.45,75.3],"nice":false,"zero":false},"axis":{"title":null,"orient":"right","values":[10,20,30,40,50,60,70],"labelExpr":"datum.value==10||datum.value==40||datum.value==70?datum.label:''","labelAngle":-90,"labelAlign":"center","labelBaseline":"top","labelPadding":13}}}}
 ],"resolve":{"scale":{"y":"independent"}}},

 {"width":97,"height":97,"data":{"name":"c"},"encoding":{"x":{"field":"Birthrate","type":"quantitative","title":null,"scale":{"domain":[6.1,46.3],"nice":false,"zero":false},"axis":{"title":null,"orient":"bottom","values":[10,20,30,40],"labelExpr":"datum.value==10||datum.value==30?datum.label:''","labelBaseline":"top","labelPadding":9}},"y":{"field":"BMI_F","type":"quantitative","title":null,"scale":{"domain":[14.3,80.7],"nice":false,"zero":false},"axis":{"title":null,"orient":"left","values":[20,30,40,50,60,70,80],"labelExpr":"datum.value==20||datum.value==50||datum.value==80?datum.label:''","labelAngle":-90,"labelAlign":"center","labelBaseline":"alphabetic","labelPadding":10}}},"layer":[{"mark":{"type":"point","shape":"diamond","filled":true,"color":"blue","size":34,"opacity":1}},{"transform":[{"loess":"BMI_F","on":"Birthrate","bandwidth":0.67}],"mark":{"type":"line","color":"red","strokeWidth":1.3,"clip":true},"encoding":{}}]},
 {"width":97,"height":97,"data":{"name":"c"},"encoding":{"x":{"field":"GDP","type":"quantitative","title":null,"scale":{"domain":[-4230,106600],"nice":false,"zero":false},"axis":null},"y":{"field":"BMI_F","type":"quantitative","title":null,"scale":{"domain":[14.3,80.7],"nice":false,"zero":false},"axis":null}},"layer":[{"mark":{"type":"point","shape":"diamond","filled":true,"color":"blue","size":34,"opacity":1}},{"transform":[{"loess":"BMI_F","on":"GDP","bandwidth":0.67}],"mark":{"type":"line","color":"red","strokeWidth":1.3,"clip":true},"encoding":{}}]},
 {"width":97,"height":97,"data":{"name":"c"},"encoding":{"x":{"field":"Temp","type":"quantitative","title":null,"scale":{"domain":[-6.86,29.46],"nice":false,"zero":false},"axis":{"title":null,"orient":"bottom","values":[-5,0,5,10,15,20,25],"labelExpr":"datum.value==-5||datum.value==5||datum.value==15?datum.label:''","labelBaseline":"top","labelPadding":9}},"y":{"field":"BMI_F","type":"quantitative","title":null,"scale":{"domain":[14.3,80.7],"nice":false,"zero":false},"axis":null}},"layer":[{"mark":{"type":"point","shape":"diamond","filled":true,"color":"blue","size":34,"opacity":1}},{"transform":[{"loess":"BMI_F","on":"Temp","bandwidth":0.67}],"mark":{"type":"line","color":"red","strokeWidth":1.3,"clip":true},"encoding":{}}]},
 {"width":97,"height":97,"data":{"name":"c"},"encoding":{"x":{"field":"PM2pt5","type":"quantitative","title":null,"scale":{"domain":[1.9,110.5],"nice":false,"zero":false},"axis":null},"y":{"field":"BMI_F","type":"quantitative","title":null,"scale":{"domain":[14.3,80.7],"nice":false,"zero":false},"axis":null}},"layer":[{"mark":{"type":"point","shape":"diamond","filled":true,"color":"blue","size":34,"opacity":1}},{"transform":[{"loess":"BMI_F","on":"PM2pt5","bandwidth":0.67}],"mark":{"type":"line","color":"red","strokeWidth":1.3,"clip":true},"encoding":{}}]},
 {"width":97,"height":97,"data":{"name":"c"},"encoding":{"x":{"field":"BMI_M","type":"quantitative","title":null,"scale":{"domain":[6.45,75.3],"nice":false,"zero":false},"axis":{"title":null,"orient":"bottom","values":[10,20,30,40,50,60,70],"labelExpr":"datum.value==10||datum.value==40||datum.value==70?datum.label:''","labelBaseline":"top","labelPadding":9}},"y":{"field":"BMI_F","type":"quantitative","title":null,"scale":{"domain":[14.3,80.7],"nice":false,"zero":false},"axis":null}},"layer":[{"mark":{"type":"point","shape":"diamond","filled":true,"color":"blue","size":34,"opacity":1}},{"transform":[{"loess":"BMI_F","on":"BMI_M","bandwidth":0.67}],"mark":{"type":"line","color":"red","strokeWidth":1.3,"clip":true},"encoding":{}}]},
 {"width":97,"height":97,"layer":[
  {"data":{"name":"h"},"transform":[{"filter":"datum.v=='BMI_F'"}],"mark":{"type":"bar","fill":"#00008B","stroke":"black","strokeWidth":1,"clip":true},"encoding":{"x":{"field":"lo","type":"quantitative","scale":{"domain":[14.3,80.7],"nice":false,"zero":false},"axis":null},"x2":{"field":"hi"},"y":{"field":"n","type":"quantitative","scale":{"domain":[0,39],"nice":false},"axis":null},"y2":{"datum":0}}},
  {"data":{"name":"nm"},"transform":[{"filter":"datum.v=='BMI_F'"}],"mark":{"type":"text","fontSize":23,"baseline":"alphabetic","color":"black"},"encoding":{"y":{"field":"v","type":"nominal","scale":{"type":"point","align":0.254,"padding":0},"axis":null},"text":{"field":"v"}}}
 ],"resolve":{"scale":{"y":"independent"}}}
]
}
